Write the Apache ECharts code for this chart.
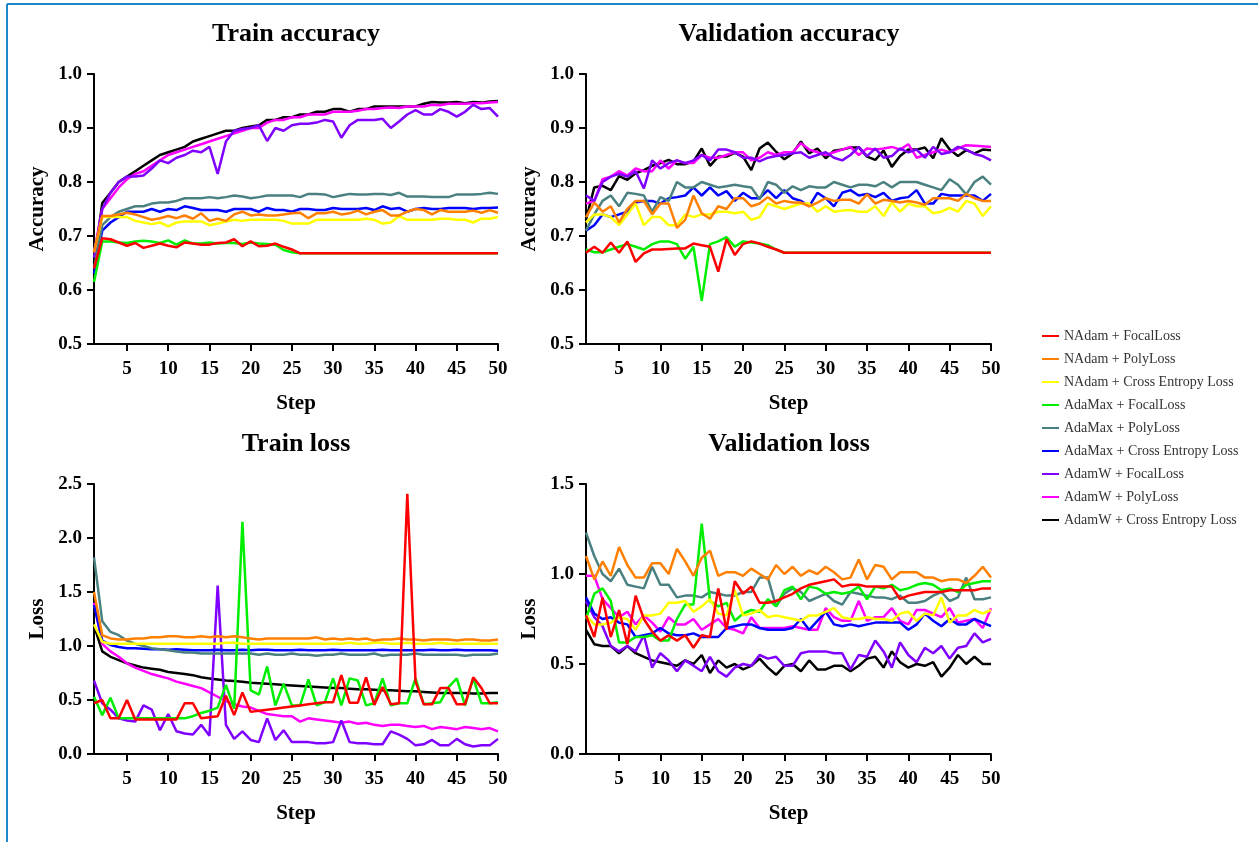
<!DOCTYPE html>
<html>
<head>
<meta charset="utf-8">
<script src="https://cdn.jsdelivr.net/npm/echarts@6/dist/echarts.min.js"></script>
<style>html,body{margin:0;padding:0;background:#fff}#c{width:1258px;height:842px}</style>
</head>
<body>
<div id="c"></div>
<script>
const steps = Array.from({length: 50}, (_, i) => i + 1);
const xTicks = [5, 10, 15, 20, 25, 30, 35, 40, 45, 50];
const seriesNames = ['NAdam + FocalLoss', 'NAdam + PolyLoss', 'NAdam + Cross Entropy Loss',
  'AdaMax + FocalLoss', 'AdaMax + PolyLoss', 'AdaMax + Cross Entropy Loss',
  'AdamW + FocalLoss', 'AdamW + PolyLoss', 'AdamW + Cross Entropy Loss'];
const panelTitles = ['Train accuracy', 'Validation accuracy', 'Train loss', 'Validation loss'];

// ---- Train accuracy ----
const taNAdamFocal = [0.640,0.696,0.694,0.688,0.682,0.687,0.678,0.682,0.686,0.682,
  0.679,0.688,0.686,0.684,0.684,0.687,0.688,0.694,0.681,0.690,
  0.681,0.682,0.686,0.680,0.675,0.668,0.668,0.668,0.668,0.668,
  0.668,0.668,0.668,0.668,0.668,0.668,0.668,0.668,0.668,0.668,
  0.668,0.668,0.668,0.668,0.668,0.668,0.668,0.668,0.668,0.668];
const taNAdamPoly = [0.670,0.737,0.737,0.740,0.743,0.740,0.735,0.730,0.733,0.737,
  0.733,0.738,0.732,0.742,0.728,0.732,0.728,0.740,0.745,0.738,
  0.740,0.738,0.738,0.740,0.742,0.743,0.733,0.742,0.742,0.745,
  0.740,0.742,0.747,0.740,0.745,0.748,0.738,0.738,0.745,0.750,
  0.748,0.740,0.748,0.745,0.745,0.745,0.747,0.743,0.748,0.743];
const taNAdamCE = [0.670,0.735,0.735,0.735,0.735,0.728,0.725,0.722,0.725,0.718,
  0.725,0.727,0.727,0.727,0.720,0.723,0.727,0.730,0.728,0.730,
  0.730,0.730,0.730,0.728,0.723,0.723,0.723,0.730,0.730,0.730,
  0.730,0.730,0.730,0.732,0.730,0.723,0.725,0.737,0.730,0.730,
  0.730,0.730,0.732,0.732,0.730,0.730,0.725,0.732,0.732,0.735];
const taAdaMaxFocal = [0.615,0.690,0.690,0.688,0.687,0.690,0.691,0.690,0.687,0.692,
  0.684,0.692,0.686,0.686,0.688,0.686,0.687,0.687,0.685,0.688,
  0.686,0.685,0.684,0.674,0.670,0.668,0.668,0.668,0.668,0.668,
  0.668,0.668,0.668,0.668,0.668,0.668,0.668,0.668,0.668,0.668,
  0.668,0.668,0.668,0.668,0.668,0.668,0.668,0.668,0.668,0.668];
const taAdaMaxPoly = [0.640,0.720,0.735,0.745,0.750,0.755,0.755,0.760,0.762,0.762,
  0.765,0.770,0.770,0.770,0.772,0.770,0.772,0.775,0.773,0.770,
  0.772,0.775,0.775,0.775,0.775,0.772,0.778,0.778,0.777,0.772,
  0.775,0.778,0.777,0.777,0.778,0.778,0.776,0.780,0.773,0.773,
  0.773,0.772,0.772,0.772,0.777,0.777,0.777,0.778,0.780,0.778];
const taAdaMaxCE = [0.630,0.710,0.725,0.735,0.745,0.745,0.745,0.750,0.745,0.750,
  0.748,0.755,0.752,0.748,0.748,0.748,0.745,0.750,0.750,0.750,
  0.745,0.752,0.748,0.748,0.745,0.750,0.750,0.748,0.748,0.752,
  0.750,0.750,0.750,0.752,0.748,0.755,0.750,0.752,0.745,0.750,
  0.752,0.750,0.750,0.752,0.752,0.752,0.750,0.752,0.752,0.753];
const taAdamWFocal = [0.660,0.750,0.780,0.800,0.810,0.810,0.812,0.825,0.840,0.835,
  0.845,0.850,0.858,0.855,0.865,0.815,0.875,0.895,0.898,0.900,
  0.905,0.876,0.900,0.895,0.905,0.908,0.908,0.910,0.915,0.912,
  0.882,0.905,0.915,0.915,0.915,0.917,0.900,0.912,0.925,0.933,
  0.925,0.925,0.935,0.930,0.921,0.930,0.943,0.935,0.937,0.921];
const taAdamWPoly = [0.670,0.750,0.770,0.790,0.805,0.815,0.820,0.830,0.840,0.850,
  0.855,0.860,0.865,0.870,0.875,0.880,0.885,0.890,0.895,0.900,
  0.900,0.910,0.915,0.915,0.920,0.920,0.925,0.925,0.925,0.930,
  0.930,0.930,0.932,0.935,0.935,0.937,0.938,0.937,0.940,0.940,
  0.940,0.943,0.942,0.945,0.945,0.945,0.946,0.946,0.947,0.948];
const taAdamWCE = [0.650,0.761,0.780,0.800,0.810,0.820,0.830,0.840,0.850,0.855,
  0.860,0.865,0.875,0.880,0.885,0.890,0.895,0.895,0.900,0.903,
  0.905,0.915,0.915,0.920,0.920,0.925,0.925,0.930,0.930,0.935,
  0.935,0.930,0.935,0.935,0.940,0.940,0.940,0.940,0.940,0.940,
  0.945,0.948,0.947,0.947,0.948,0.946,0.948,0.947,0.949,0.950];

// ---- Validation accuracy ----
const vaNAdamFocal = [0.669,0.680,0.669,0.688,0.669,0.690,0.652,0.668,0.675,0.675,
  0.676,0.677,0.677,0.686,0.683,0.680,0.634,0.694,0.665,0.685,
  0.690,0.686,0.680,0.675,0.669,0.669,0.669,0.669,0.669,0.669,
  0.669,0.669,0.669,0.669,0.669,0.669,0.669,0.669,0.669,0.669,
  0.669,0.669,0.669,0.669,0.669,0.669,0.669,0.669,0.669,0.669];
const vaNAdamPoly = [0.735,0.762,0.745,0.755,0.725,0.750,0.765,0.765,0.740,0.760,
  0.760,0.715,0.730,0.775,0.742,0.732,0.755,0.750,0.770,0.770,
  0.755,0.760,0.772,0.760,0.765,0.762,0.762,0.755,0.762,0.770,
  0.765,0.767,0.767,0.760,0.777,0.760,0.767,0.765,0.762,0.765,
  0.762,0.758,0.770,0.770,0.770,0.765,0.778,0.770,0.765,0.765];
const vaNAdamCE = [0.725,0.740,0.740,0.735,0.720,0.740,0.760,0.720,0.735,0.735,
  0.720,0.720,0.740,0.735,0.740,0.740,0.745,0.745,0.742,0.745,
  0.730,0.735,0.760,0.755,0.750,0.755,0.760,0.760,0.745,0.755,
  0.745,0.747,0.748,0.745,0.745,0.755,0.737,0.762,0.745,0.760,
  0.755,0.755,0.742,0.745,0.752,0.745,0.765,0.760,0.737,0.755];
const vaAdaMaxFocal = [0.675,0.670,0.670,0.675,0.680,0.685,0.680,0.675,0.685,0.690,
  0.690,0.685,0.658,0.680,0.580,0.685,0.690,0.698,0.680,0.690,
  0.688,0.686,0.683,0.675,0.669,0.669,0.669,0.669,0.669,0.669,
  0.669,0.669,0.669,0.669,0.669,0.669,0.669,0.669,0.669,0.669,
  0.669,0.669,0.669,0.669,0.669,0.669,0.669,0.669,0.669,0.669];
const vaAdaMaxPoly = [0.710,0.740,0.765,0.775,0.755,0.780,0.778,0.775,0.745,0.772,
  0.765,0.800,0.790,0.790,0.800,0.795,0.790,0.792,0.795,0.792,
  0.790,0.768,0.800,0.795,0.780,0.792,0.785,0.792,0.790,0.790,
  0.800,0.795,0.790,0.795,0.795,0.792,0.800,0.790,0.800,0.800,
  0.800,0.795,0.790,0.785,0.805,0.795,0.777,0.800,0.810,0.795];
const vaAdaMaxCE = [0.710,0.720,0.740,0.735,0.740,0.745,0.762,0.765,0.765,0.760,
  0.770,0.772,0.775,0.790,0.775,0.790,0.775,0.783,0.765,0.780,
  0.770,0.770,0.785,0.770,0.785,0.770,0.765,0.755,0.780,0.770,
  0.755,0.780,0.785,0.775,0.778,0.772,0.780,0.765,0.770,0.772,
  0.785,0.760,0.760,0.778,0.775,0.775,0.775,0.775,0.765,0.778];
const vaAdamWFocal = [0.775,0.765,0.800,0.810,0.815,0.810,0.820,0.788,0.840,0.825,
  0.835,0.840,0.835,0.840,0.850,0.840,0.860,0.860,0.855,0.845,
  0.845,0.838,0.845,0.848,0.850,0.853,0.855,0.845,0.850,0.855,
  0.845,0.840,0.850,0.865,0.848,0.862,0.845,0.848,0.862,0.855,
  0.860,0.845,0.865,0.852,0.855,0.865,0.860,0.852,0.848,0.840];
const vaAdamWPoly = [0.760,0.765,0.805,0.810,0.820,0.812,0.825,0.820,0.820,0.840,
  0.825,0.840,0.835,0.835,0.850,0.845,0.845,0.850,0.855,0.855,
  0.840,0.845,0.855,0.850,0.855,0.855,0.872,0.860,0.855,0.850,
  0.855,0.860,0.865,0.850,0.862,0.860,0.862,0.865,0.860,0.870,
  0.845,0.850,0.855,0.860,0.855,0.862,0.868,0.867,0.866,0.865];
const vaAdamWCE = [0.730,0.790,0.793,0.785,0.811,0.804,0.816,0.822,0.830,0.835,
  0.841,0.833,0.833,0.838,0.862,0.830,0.847,0.847,0.854,0.847,
  0.822,0.862,0.873,0.856,0.842,0.853,0.875,0.853,0.862,0.844,
  0.858,0.860,0.864,0.864,0.847,0.841,0.858,0.828,0.848,0.860,
  0.860,0.864,0.844,0.881,0.860,0.848,0.859,0.853,0.860,0.859];

// ---- Train loss ----
const tlNAdamFocal = [0.47,0.50,0.33,0.33,0.50,0.32,0.32,0.32,0.32,0.32,
  0.32,0.47,0.47,0.33,0.34,0.35,0.54,0.36,0.57,0.39,
  0.40,0.41,0.42,0.43,0.44,0.45,0.46,0.47,0.48,0.48,
  0.73,0.475,0.475,0.71,0.455,0.62,0.46,0.47,2.41,0.67,
  0.46,0.46,0.61,0.61,0.46,0.46,0.71,0.61,0.47,0.47];
const tlNAdamPoly = [1.50,1.10,1.07,1.06,1.06,1.07,1.07,1.08,1.08,1.09,
  1.09,1.08,1.08,1.09,1.08,1.09,1.08,1.09,1.08,1.07,
  1.06,1.07,1.07,1.07,1.07,1.07,1.07,1.08,1.06,1.07,
  1.06,1.07,1.06,1.07,1.05,1.06,1.06,1.07,1.06,1.06,
  1.05,1.06,1.06,1.06,1.05,1.06,1.06,1.05,1.05,1.06];
const tlNAdamCE = [1.20,1.04,1.02,1.02,1.02,1.02,1.02,1.02,1.02,1.02,
  1.02,1.02,1.02,1.02,1.02,1.02,1.03,1.03,1.02,1.02,
  1.02,1.02,1.02,1.02,1.02,1.02,1.02,1.02,1.02,1.02,
  1.02,1.03,1.02,1.02,1.03,1.03,1.02,1.02,1.03,1.02,
  1.02,1.02,1.03,1.02,1.02,1.02,1.02,1.02,1.02,1.02];
const tlAdaMaxFocal = [0.53,0.36,0.52,0.33,0.33,0.33,0.33,0.33,0.33,0.33,
  0.33,0.33,0.35,0.38,0.40,0.43,0.64,0.42,2.15,0.59,
  0.55,0.81,0.45,0.65,0.45,0.45,0.69,0.45,0.48,0.70,
  0.45,0.70,0.68,0.45,0.47,0.70,0.45,0.47,0.47,0.70,
  0.46,0.47,0.48,0.62,0.70,0.45,0.70,0.47,0.47,0.48];
const tlAdaMaxPoly = [1.82,1.23,1.13,1.10,1.05,1.02,1.00,0.98,0.97,0.96,
  0.95,0.94,0.94,0.93,0.93,0.93,0.93,0.93,0.93,0.93,
  0.92,0.93,0.92,0.92,0.93,0.92,0.92,0.91,0.92,0.92,
  0.93,0.92,0.92,0.92,0.93,0.91,0.92,0.92,0.92,0.93,
  0.92,0.92,0.92,0.92,0.92,0.91,0.92,0.92,0.92,0.93];
const tlAdaMaxCE = [1.38,1.05,1.01,0.99,0.98,0.98,0.975,0.97,0.97,0.965,
  0.97,0.965,0.96,0.96,0.96,0.965,0.96,0.96,0.965,0.96,
  0.965,0.965,0.96,0.96,0.96,0.965,0.96,0.96,0.96,0.965,
  0.96,0.96,0.96,0.96,0.96,0.965,0.96,0.96,0.96,0.96,
  0.96,0.965,0.96,0.96,0.965,0.96,0.96,0.96,0.96,0.955];
const tlAdamWFocal = [0.68,0.47,0.41,0.33,0.31,0.30,0.45,0.41,0.22,0.37,
  0.21,0.19,0.18,0.27,0.17,1.56,0.27,0.14,0.21,0.13,
  0.11,0.33,0.13,0.22,0.11,0.11,0.11,0.10,0.10,0.11,
  0.31,0.11,0.10,0.10,0.09,0.09,0.21,0.18,0.14,0.08,
  0.09,0.13,0.08,0.08,0.14,0.09,0.07,0.08,0.08,0.14];
const tlAdamWPoly = [1.40,1.02,0.95,0.90,0.84,0.80,0.77,0.74,0.72,0.70,
  0.67,0.65,0.63,0.61,0.57,0.53,0.49,0.46,0.44,0.43,
  0.40,0.37,0.36,0.35,0.35,0.30,0.33,0.32,0.31,0.30,
  0.29,0.30,0.28,0.29,0.27,0.26,0.27,0.27,0.26,0.25,
  0.26,0.23,0.25,0.24,0.23,0.25,0.24,0.23,0.24,0.21];
const tlAdamWCE = [1.19,0.95,0.90,0.87,0.84,0.82,0.80,0.79,0.78,0.76,
  0.75,0.74,0.73,0.71,0.70,0.69,0.68,0.675,0.67,0.66,
  0.655,0.65,0.645,0.64,0.635,0.63,0.625,0.62,0.615,0.61,
  0.61,0.605,0.60,0.60,0.595,0.59,0.59,0.585,0.58,0.58,
  0.575,0.57,0.565,0.565,0.565,0.565,0.56,0.56,0.565,0.565];

// ---- Validation loss ----
const vlNAdamFocal = [0.77,0.65,0.87,0.65,0.80,0.61,0.88,0.75,0.68,0.63,
  0.66,0.63,0.66,0.59,0.66,0.65,0.92,0.69,0.96,0.89,
  0.93,0.84,0.84,0.85,0.87,0.89,0.92,0.94,0.95,0.96,
  0.97,0.93,0.94,0.94,0.93,0.93,0.93,0.93,0.86,0.88,
  0.89,0.90,0.90,0.90,0.91,0.91,0.91,0.91,0.92,0.92];
const vlNAdamPoly = [1.10,0.97,1.07,0.99,1.15,1.05,0.98,0.98,1.06,1.06,
  1.00,1.14,1.07,0.99,1.09,1.13,0.99,1.01,1.01,0.99,
  1.03,1.00,0.97,1.05,1.00,1.04,0.99,1.02,1.00,1.04,
  1.01,0.97,0.98,1.08,0.97,1.05,1.04,0.97,1.01,1.01,
  1.01,0.98,0.98,0.96,0.97,0.97,0.95,0.99,1.04,0.98];
const vlNAdamCE = [0.77,0.72,0.72,0.73,0.76,0.75,0.69,0.77,0.77,0.78,
  0.84,0.84,0.85,0.79,0.82,0.86,0.78,0.77,0.91,0.77,
  0.78,0.80,0.76,0.77,0.76,0.75,0.74,0.77,0.77,0.79,
  0.81,0.76,0.75,0.75,0.76,0.75,0.75,0.74,0.78,0.79,
  0.74,0.78,0.77,0.87,0.73,0.77,0.77,0.80,0.78,0.80];
const vlAdaMaxFocal = [0.75,0.89,0.92,0.85,0.62,0.62,0.65,0.65,0.66,0.63,
  0.63,0.75,0.83,0.83,1.28,0.85,0.82,0.84,0.74,0.78,
  0.80,0.79,0.86,0.82,0.91,0.93,0.86,0.93,0.92,0.89,
  0.90,0.89,0.90,0.93,0.86,0.93,0.92,0.94,0.91,0.92,
  0.94,0.95,0.94,0.91,0.92,0.90,0.94,0.95,0.96,0.96];
const vlAdaMaxPoly = [1.23,1.10,1.00,0.96,1.03,0.94,0.93,0.92,1.04,0.94,
  0.94,0.87,0.88,0.88,0.87,0.90,0.89,0.88,0.88,0.90,
  0.90,0.98,0.98,0.82,0.89,0.92,0.90,0.85,0.87,0.89,
  0.85,0.83,0.90,0.89,0.88,0.87,0.87,0.86,0.88,0.84,
  0.84,0.85,0.88,0.90,0.85,0.87,0.98,0.86,0.86,0.87];
const vlAdaMaxCE = [0.87,0.78,0.75,0.76,0.73,0.72,0.65,0.66,0.67,0.70,
  0.67,0.66,0.66,0.67,0.65,0.65,0.65,0.70,0.71,0.72,
  0.72,0.70,0.69,0.69,0.69,0.70,0.75,0.69,0.74,0.79,
  0.72,0.71,0.72,0.71,0.72,0.73,0.73,0.73,0.73,0.69,
  0.72,0.78,0.74,0.71,0.75,0.72,0.72,0.75,0.73,0.71];
const vlAdamWFocal = [0.85,0.76,0.71,0.60,0.57,0.60,0.57,0.66,0.48,0.56,
  0.52,0.46,0.52,0.49,0.46,0.54,0.46,0.43,0.48,0.50,
  0.49,0.55,0.53,0.54,0.49,0.49,0.56,0.57,0.57,0.57,
  0.56,0.56,0.47,0.55,0.54,0.63,0.57,0.48,0.62,0.55,
  0.51,0.59,0.56,0.60,0.53,0.59,0.60,0.67,0.62,0.64];
const vlAdamWPoly = [0.99,0.99,0.86,0.81,0.76,0.79,0.72,0.77,0.73,0.68,
  0.76,0.72,0.72,0.75,0.69,0.72,0.75,0.70,0.69,0.67,
  0.76,0.70,0.70,0.70,0.70,0.71,0.70,0.69,0.69,0.81,
  0.76,0.74,0.74,0.85,0.74,0.76,0.76,0.81,0.74,0.72,
  0.80,0.80,0.78,0.76,0.81,0.73,0.74,0.75,0.70,0.81];
const vlAdamWCE = [0.69,0.61,0.60,0.60,0.56,0.60,0.56,0.54,0.52,0.51,
  0.50,0.49,0.52,0.50,0.55,0.45,0.52,0.48,0.50,0.47,
  0.49,0.53,0.48,0.44,0.49,0.50,0.46,0.52,0.47,0.47,
  0.49,0.49,0.46,0.49,0.53,0.54,0.48,0.57,0.51,0.48,
  0.50,0.49,0.51,0.43,0.48,0.55,0.50,0.54,0.50,0.50];

const panels = [
  [taNAdamFocal, taNAdamPoly, taNAdamCE, taAdaMaxFocal, taAdaMaxPoly, taAdaMaxCE, taAdamWFocal, taAdamWPoly, taAdamWCE],
  [vaNAdamFocal, vaNAdamPoly, vaNAdamCE, vaAdaMaxFocal, vaAdaMaxPoly, vaAdaMaxCE, vaAdamWFocal, vaAdamWPoly, vaAdamWCE],
  [tlNAdamFocal, tlNAdamPoly, tlNAdamCE, tlAdaMaxFocal, tlAdaMaxPoly, tlAdaMaxCE, tlAdamWFocal, tlAdamWPoly, tlAdamWCE],
  [vlNAdamFocal, vlNAdamPoly, vlNAdamCE, vlAdaMaxFocal, vlAdaMaxPoly, vlAdaMaxCE, vlAdamWFocal, vlAdamWPoly, vlAdamWCE]
];

const colors = ['#ff0000', '#ff8000', '#ffff00', '#00ee00', '#4a8080', '#0000ff', '#8000ff', '#ff00ff', '#000000'];
const serif = '"Liberation Serif", "Times New Roman", serif';
const gridPos = [
  {left: 94, top: 74, width: 404, height: 270},
  {left: 586, top: 74, width: 405, height: 270},
  {left: 94, top: 484, width: 404, height: 270},
  {left: 586, top: 484, width: 405, height: 270}
];
const yCfg = [
  {min: 0.5, max: 1.0, interval: 0.1, name: 'Accuracy'},
  {min: 0.5, max: 1.0, interval: 0.1, name: 'Accuracy'},
  {min: 0, max: 2.5, interval: 0.5, name: 'Loss'},
  {min: 0, max: 1.5, interval: 0.5, name: 'Loss'}
];
const titleCenters = [[296, 21], [789, 21], [296, 431], [789, 431]];

const axisLineStyle = {show: true, lineStyle: {color: '#000', width: 2}};
const tickStyle = {show: true, length: 7, lineStyle: {color: '#000', width: 2}};
const labelFont = {color: '#000', fontFamily: serif, fontWeight: 'bold', fontSize: 19};

const option = {
  backgroundColor: '#fff',
  animation: false,
  title: panelTitles.map((t, i) => ({
    text: t, left: titleCenters[i][0], top: titleCenters[i][1], textAlign: 'center', padding: 0,
    textStyle: {fontFamily: serif, fontWeight: 'bold', fontSize: 26, color: '#000'}
  })),
  legend: {
    data: seriesNames, orient: 'vertical', left: 1037, top: 324,
    icon: 'rect', itemWidth: 17, itemHeight: 2, itemGap: 9,
    textStyle: {fontFamily: serif, fontSize: 14, color: '#333'}
  },
  grid: gridPos.map(g => Object.assign({containLabel: false}, g)),
  xAxis: gridPos.map((g, i) => ({
    type: 'value', gridIndex: i, min: 1, max: 50,
    name: 'Step', nameLocation: 'middle', nameGap: 49,
    nameTextStyle: {fontFamily: serif, fontWeight: 'bold', fontSize: 21, color: '#000'},
    axisLine: axisLineStyle, axisTick: Object.assign({customValues: xTicks}, tickStyle),
    axisLabel: Object.assign({customValues: xTicks, margin: 16}, labelFont),
    splitLine: {show: false}
  })),
  yAxis: yCfg.map((c, i) => ({
    type: 'value', gridIndex: i, min: c.min, max: c.max, interval: c.interval,
    name: c.name, nameLocation: 'middle', nameGap: 46, nameRotate: 90,
    nameTextStyle: {fontFamily: serif, fontWeight: 'bold', fontSize: 21, color: '#000'},
    axisLine: axisLineStyle, axisTick: tickStyle,
    axisLabel: Object.assign({margin: 12, formatter: v => v.toFixed(1)}, labelFont),
    splitLine: {show: false}
  })),
  series: [],
  graphic: [
    {type: 'line', shape: {x1: 7, y1: 842, x2: 7, y2: 4}, style: {stroke: '#1e88c8', lineWidth: 2}},
    {type: 'line', shape: {x1: 7, y1: 4, x2: 1258, y2: 4}, style: {stroke: '#1e88c8', lineWidth: 2}}
  ]
};

panels.forEach((panel, p) => {
  for (let k = panel.length - 1; k >= 0; k--) {
    option.series.push({
      name: seriesNames[k], type: 'line', xAxisIndex: p, yAxisIndex: p,
      data: steps.map((s, j) => [s, panel[k][j]]),
      symbol: 'none', showSymbol: false,
      lineStyle: {color: colors[k], width: 2.5}, itemStyle: {color: colors[k]},
      z: 2 + (panel.length - k) / 10
    });
  }
});

const chart = echarts.init(document.getElementById('c'), null, {renderer: 'canvas'});
chart.setOption(option);
</script>
</body>
</html>
